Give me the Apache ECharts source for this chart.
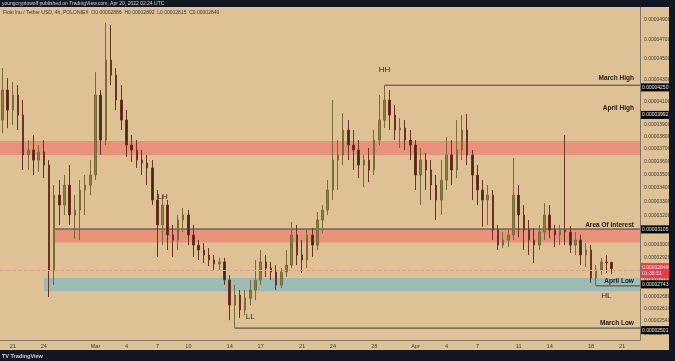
<!DOCTYPE html>
<html><head><meta charset="utf-8">
<script src="https://cdn.jsdelivr.net/npm/echarts@6/dist/echarts.min.js"></script>
<style>html,body{margin:0;padding:0;background:#131722}#c{width:675px;height:361px}</style>
</head><body><div id="c"></div>
<script>
// prices are stored in units of 1e-8 USDT
const UNIT = 1e-8;
const startDate = '2022-02-20T00:00:00Z';   // first 12h slot
const slotCount = 124;                        // slots shown on the time axis
const tickDates = ['2022-02-21 00:00','2022-02-24 00:00','2022-03-01 00:00','2022-03-04 00:00','2022-03-07 00:00','2022-03-10 00:00','2022-03-14 00:00','2022-03-17 00:00','2022-03-21 00:00','2022-03-24 00:00','2022-03-28 00:00','2022-04-01 00:00','2022-04-04 00:00','2022-04-07 00:00','2022-04-11 00:00','2022-04-14 00:00','2022-04-18 00:00','2022-04-21 00:00'];
const tickLabels = ['21','24','Mar','4','7','10','14','17','21','24','28','Apr','4','7','11','14','18','21'];

const open = [
3939,4206,4026,4160,3982,3650,3690,3610,3674,3571,
2839,3344,3272,3418,3202,3237,3381,3418,3493,4160,
3771,4490,4345,4115,3939,3730,3690,3610,3587,3548,
3308,3133,3272,3065,3031,3167,3202,3065,2998,2966,
2934,2902,2877,2890,2778,2630,2688,2602,2670,2718,
2778,2890,2851,2827,2748,2827,2870,3065,2934,2902,
3065,2998,3167,3237,3381,3610,3650,3854,3730,3690,
3571,3610,3532,3771,3939,4115,3982,3854,3870,3771,
3730,3493,3610,3532,3418,3308,3455,3650,3532,3690,
3854,3650,3493,3381,3308,3344,3098,2998,3031,3065,
3344,3202,3098,3031,2998,3085,3202,3098,3065,3098,
3085,2998,3031,2934,2966,2790,2839,2890,2886];
const close = [
4206,4026,4160,3982,3650,3690,3610,3674,3571,2839,
3344,3272,3418,3202,3237,3381,3418,3493,4160,3771,
4490,4345,4115,3939,3730,3690,3610,3587,3548,3308,
3133,3272,3065,3031,3167,3202,3065,2998,2966,2934,
2902,2877,2890,2778,2630,2688,2602,2670,2718,2778,
2890,2851,2827,2748,2827,2870,3065,2934,2902,3065,
2998,3167,3237,3381,3610,3650,3854,3730,3690,3571,
3610,3532,3771,3939,4115,3982,3854,3870,3771,3730,
3493,3610,3532,3418,3308,3455,3650,3532,3690,3854,
3650,3493,3381,3308,3344,3098,2998,3031,3065,3344,
3202,3098,3031,2998,3085,3202,3098,3065,3098,3085,
2998,3031,2934,2966,2790,2839,2890,2886,2849];
const low = [
3829,3870,3896,3854,3532,3532,3493,3516,3470,2677,
2748,3133,3202,3133,3038,3031,3202,3344,3455,3650,
3730,4252,4026,3854,3634,3594,3548,3493,3418,3272,
2921,2998,2966,2921,2966,3085,2998,2921,2902,2883,
2864,2839,2839,2748,2545,2501,2556,2573,2630,2659,
2748,2796,2778,2718,2730,2796,2851,2870,2821,2851,
2921,2966,3078,3202,3308,3381,3571,3610,3532,3470,
3403,3440,3493,3730,3870,3854,3771,3706,3690,3610,
3381,3272,3381,3308,3167,3202,3381,3418,3470,3610,
3571,3308,3272,3120,3133,3031,2966,2979,2985,3031,
3051,2966,2934,2883,2966,3031,3044,2985,2998,2998,
2947,2934,2870,2858,2760,2743,2808,2821,2815];
const high = [
4412,4317,4280,4252,4115,3771,3812,3730,3771,3610,
3418,3455,3493,3571,3344,3455,3493,3610,4373,4206,
4870,4847,4412,4252,4026,3812,3771,3690,3650,3610,
3381,3344,3308,3133,3202,3251,3237,3133,3031,3011,
2979,2934,2915,2915,2808,2748,2718,2718,2778,2902,
2966,2934,2890,2870,2851,2966,3153,3133,3031,3098,
3111,3223,3272,3455,4115,3771,4000,3939,3854,3771,
3650,3706,3854,4160,4250,4206,4070,3956,3939,3854,
3771,3706,3666,3610,3493,3610,3796,3771,3939,3982,
3992,3690,3571,3455,3418,3381,3133,3085,3111,3626,
3418,3272,3167,3111,3133,3286,3272,3133,3133,3812,
3126,3085,3065,3011,2998,2870,2915,2934,2892];

const yTicks = [4900,4700,4500,4300,4100,3900,3800,3700,3600,3500,3400,3300,3200,3000,2920,2780,2680,2610,2540,2470];
const yMin = 2437, yMax = 5042;

// levels and zones
const marchHigh = 4250, aprilHigh = 3992, areaOfInterest = 3105, aprilLow = 2743, marchLow = 2501;
const upperZone = [3650, 3763];
const interestZone = [3015, 3105];
const demandZone = [2710, 2791];
const interestStart = '2022-02-25 00:00';
const demandStart = '2022-02-24 00:00';
const marchHighStart = '2022-03-29 00:00';
const marchLowStart = '2022-03-14 12:00';
const aprilLowStart = '2022-04-18 12:00';
const countdown = '01:35:51';

// structure labels: [text, date, price]
const structLabels = [['HH','2022-03-29 00:00',4393],['LH','2022-03-07 12:00',3330],['LL','2022-03-16 00:00',2562],['HL','2022-04-19 12:00',2682]];
// level captions: [text, price]
const levelCaptions = [['March High',4317],['April High',4044],['Area Of Interest',3132],['April Low',2772],['March Low',2529]];

function fmtDate(d){ return d.toISOString().slice(0,16).replace('T',' '); }
const categories = [];
for (let i = 0; i < slotCount; i++) categories.push(fmtDate(new Date(Date.parse(startDate) + i * 12 * 3600e3)));
const lastCat = categories[categories.length - 1];
const L = v => Math.log(v);
const P = v => (v * UNIT).toFixed(8);
const tickMap = {}; tickDates.forEach((d, k) => tickMap[d] = tickLabels[k]);

const candles = open.map((o, i) => [L(o), L(close[i]), L(low[i]), L(high[i])]);
const n = open.length - 1;
const header = 'Floki Inu / Tether USD, 4h, POLONIEX  O' + P(open[n]) + '  H' + P(high[n]) + '  L' + P(low[n]) + '  C' + P(close[n]);

const lineStyleArea = c => ({ color: 'rgba(0,0,0,0)', borderColor: c, borderWidth: 1 });
const tag = (v, bg) => ({ yAxis: L(v), lineStyle: { color: 'rgba(0,0,0,0)', width: 0 },
  label: { show: true, position: 'end', distance: 1, formatter: P(v), color: '#ffffff', backgroundColor: bg, padding: [1, 1], fontSize: 5, lineHeight: 6, fontFamily: 'Liberation Sans', opacity: 1 } });

const chart = echarts.init(document.getElementById('c'), null, { renderer: 'canvas' });
chart.setOption({
  backgroundColor: '#dfc196',
  animation: false,
  grid: { left: 0, top: 7, right: 35, bottom: 21 },
  xAxis: {
    type: 'category', data: categories, boundaryGap: true,
    axisLine: { show: true, lineStyle: { color: '#7d7468', width: 1 } },
    axisTick: { show: false }, splitLine: { show: false },
    axisLabel: { interval: (idx, val) => tickMap[val] !== undefined, formatter: val => tickMap[val] || '',
      color: '#3d3a35', fontSize: 5.5, margin: 3, fontFamily: 'Liberation Sans' }
  },
  yAxis: {
    type: 'value', position: 'right', min: L(yMin), max: L(yMax), scale: true,
    axisLine: { show: true, lineStyle: { color: '#7d7468', width: 1 } },
    axisTick: { show: false }, splitLine: { show: false },
    axisLabel: { customValues: yTicks.map(L), formatter: v => (Math.exp(v) * UNIT).toFixed(8),
      color: '#3d3a35', fontSize: 5, margin: 4, fontFamily: 'Liberation Sans' }
  },
  graphic: [
    { type: 'rect', shape: { x: 0, y: 0, width: 675, height: 7 }, style: { fill: '#131722' }, z: 100 },
    { type: 'rect', shape: { x: 669, y: 0, width: 6, height: 361 }, style: { fill: '#131722' }, z: 100 },
    { type: 'rect', shape: { x: 0, y: 350, width: 675, height: 11 }, style: { fill: '#131722' }, z: 100 },
    { type: 'text', x: 2, y: 1, style: { text: 'youngcryptowolf published on TradingView.com, Apr 20, 2022 02:24 UTC', fill: '#d1d4dc', fontSize: 5, fontFamily: 'Liberation Sans' }, z: 101 },
    { type: 'text', x: 3, y: 10, style: { text: header, fill: '#3d3a35', fontSize: 5, fontFamily: 'Liberation Sans' }, z: 101 },
    { type: 'text', x: 2, y: 353, style: { text: 'TV TradingView', fill: '#d1d4dc', fontSize: 5.5, fontWeight: 'bold', fontFamily: 'Liberation Sans' }, z: 101 }
  ],
  series: [
    { // zones and level lines
      type: 'line', data: [], z: 1, silent: true,
      markArea: { silent: true, label: { show: false }, data: [
        [{ yAxis: L(upperZone[1]), itemStyle: { color: '#e8917b' } }, { yAxis: L(upperZone[0]) }],
        [{ xAxis: interestStart, yAxis: L(interestZone[1]), itemStyle: { color: '#e8917b' } }, { yAxis: L(interestZone[0]) }],
        [{ xAxis: demandStart, yAxis: L(demandZone[1]), itemStyle: { color: '#9cbab6' } }, { yAxis: L(demandZone[0]) }],
        [{ xAxis: interestStart, yAxis: L(areaOfInterest), itemStyle: lineStyleArea('#6e6557') }, { yAxis: L(areaOfInterest) }],
        [{ xAxis: marchHighStart, yAxis: L(marchHigh), itemStyle: lineStyleArea('#6e6557') }, { yAxis: L(marchHigh) }],
        [{ xAxis: marchLowStart, yAxis: L(marchLow), itemStyle: lineStyleArea('#6e6557') }, { yAxis: L(marchLow) }],
        [{ xAxis: aprilLowStart, yAxis: L(aprilLow), itemStyle: lineStyleArea('#6e6557') }, { yAxis: L(aprilLow) }]
      ] }
    },
    {
      type: 'candlestick', name: 'FLOKI/USDT', data: candles, z: 3, barWidth: 2,
      itemStyle: { color: '#8e7c46', borderColor: '#7b6a3a', color0: '#3e2b1f', borderColor0: '#6a3323', borderWidth: 1 }
    },
    { // annotations and price tags
      type: 'line', data: [], z: 5, silent: true,
      markPoint: { symbol: 'circle', symbolSize: 1, itemStyle: { color: 'rgba(0,0,0,0)' }, data: [
        ...structLabels.map(s => ({ name: s[0], coord: [s[1], L(s[2])],
          label: { show: true, position: 'inside', formatter: '{b}', color: '#2e2a25', fontSize: 8, fontFamily: 'Liberation Sans' } })),
        ...levelCaptions.map(s => ({ name: s[0], coord: [lastCat, L(s[1])],
          label: { show: true, position: 'left', distance: 3, formatter: '{b}', color: '#1e1b18', fontSize: 6.5, fontWeight: 'bold', fontFamily: 'Liberation Sans' } }))
      ] },
      markLine: { symbol: ['none', 'none'], silent: true, data: [
        tag(marchHigh, '#000000'), tag(aprilHigh, '#000000'), tag(areaOfInterest, '#000000'), tag(aprilLow, '#000000'), tag(marchLow, '#000000'),
        { yAxis: L(close[n]), lineStyle: { color: '#e79b88', type: 'dashed', width: 1 },
          label: { show: true, position: 'end', distance: 1, formatter: P(close[n]) + '\n' + countdown, color: '#fff', backgroundColor: '#f23645', padding: [1, 1], fontSize: 5, lineHeight: 6.5, fontFamily: 'Liberation Sans' } }
      ] }
    }
  ]
});
</script></body></html>
